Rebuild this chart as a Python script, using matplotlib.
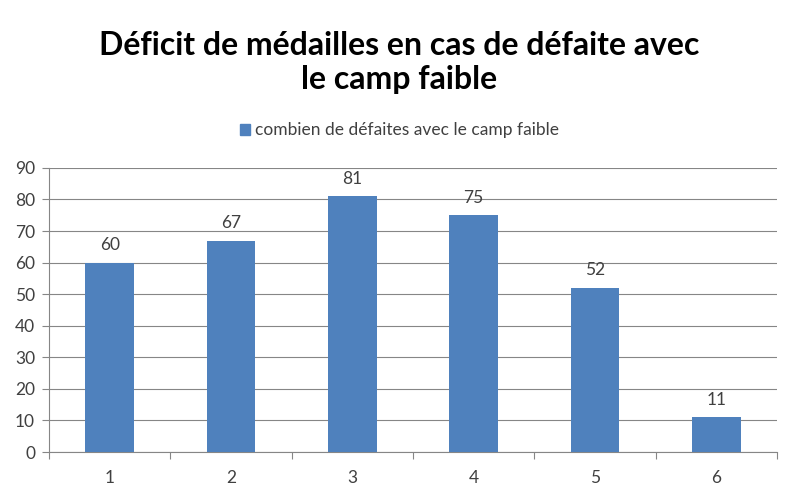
import numpy as np
import matplotlib
matplotlib.use("Agg")
import matplotlib.pyplot as plt
from matplotlib.patches import Patch

categories = ["1", "2", "3", "4", "5", "6"]
values = [60, 67, 81, 75, 52, 11]
series_name = "combien de défaites avec le camp faible"
title = "Déficit de médailles en cas de défaite avec\nle camp faible"

plt.rcParams["font.family"] = ["Lato", "DejaVu Sans"]

BLUE = "#4F81BD"
GRID = "#868686"
TEXT = "#404040"

fig = plt.figure(figsize=(7.99, 5.01), dpi=100)
ax = fig.add_axes([0.0613, 0.0978, 0.9112, 0.567])

x = np.arange(1, len(categories) + 1)
ax.bar(x, values, width=0.4, color=BLUE, zorder=3)
for xi, v in zip(x, values):
    ax.text(xi, v + 3, str(v), ha="center", va="bottom", fontsize=12.5, color=TEXT)

ax.set_xlim(0.5, len(categories) + 0.5)
ax.set_ylim(0, 90)
ax.set_yticks(np.arange(0, 91, 10))
ax.yaxis.grid(True, color=GRID, linewidth=0.8, zorder=0)
ax.set_xticks(x)
ax.set_xticklabels(categories)
ax.set_xticks(np.arange(0.5, len(categories) + 1), minor=True)
ax.tick_params(axis="x", which="major", length=0, pad=13, labelsize=12.5, labelcolor=TEXT)
ax.tick_params(axis="x", which="minor", length=5, color=GRID, width=0.8)
ax.tick_params(axis="y", length=5, color=GRID, width=0.8, labelsize=12.5, labelcolor=TEXT, pad=5)

for s in ["top", "right"]:
    ax.spines[s].set_visible(False)
for s in ["left", "bottom"]:
    ax.spines[s].set_color(GRID)
    ax.spines[s].set_linewidth(0.8)

fig.text(0.5, 0.875, title, ha="center", va="center", fontsize=23, fontweight="bold",
         color="black", linespacing=1.2)

fig.legend(handles=[Patch(color=BLUE, label=series_name)], loc="center",
           bbox_to_anchor=(0.5, 0.74), frameon=False, fontsize=12.5,
           handlelength=0.6, handleheight=0.6, handletextpad=0.3, labelcolor=TEXT)

fig.savefig("out.png", dpi=100)
